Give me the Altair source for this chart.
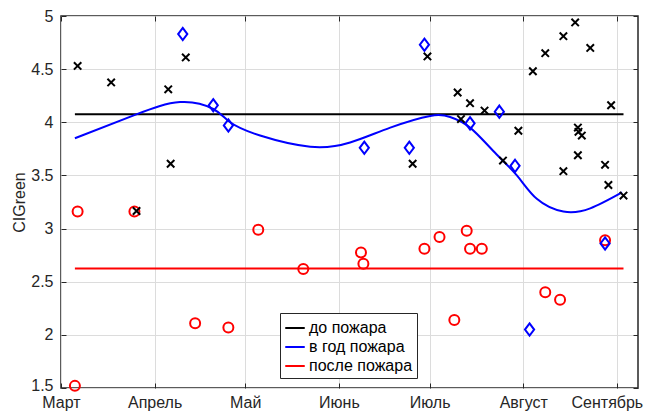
import json
import altair as alt
import pandas as pd

# ---- axis labels ----
month_names = ["Март", "Апрель", "Май", "Июнь", "Июль", "Август", "Сентябрь"]
month_days = [0, 31, 61, 92, 122, 153, 184]   # days since 1 March
y_ticks = [1.5, 2, 2.5, 3, 3.5, 4, 4.5, 5]

# ---- series names / colours ----
series_names = ["до пожара", "в год пожара", "после пожара"]
series_colors = ["#000000", "#0000ff", "#ff0000"]

# ---- before the fire (black crosses) ----
before_day = [5.5, 16.6, 35.5, 41.3, 36.3, 25.0, 121.3, 131.3, 135.4, 140.2, 132.4, 116.4,
              146.3, 151.4, 156.2, 160.3, 166.3, 170.2, 175.2, 171.1, 171.3, 172.4, 171.1,
              166.3, 180.1, 181.2, 186.2, 182.1]
before_val = [4.53, 4.375, 4.31, 4.61, 3.61, 3.165, 4.62, 4.28, 4.18, 4.11, 4.03, 3.61,
              3.64, 3.92, 4.48, 4.65, 4.81, 4.94, 4.70, 3.95, 3.91, 3.875, 3.69,
              3.54, 3.60, 3.41, 3.31, 4.16]

# ---- the fire year (blue diamonds) ----
during_day = [40.3, 50.4, 55.4, 120.3, 100.4, 115.3, 135.4, 145.1, 150.3, 155.1, 180.1]
during_val = [4.83, 4.16, 3.97, 4.73, 3.76, 3.76, 3.99, 4.10, 3.59, 2.05, 2.86]

# ---- after the fire (red circles) ----
after_day = [5.5, 24.3, 4.6, 44.4, 55.4, 65.3, 80.2, 99.3, 100.1, 120.3, 125.3, 134.3,
             135.4, 139.3, 130.2, 160.3, 165.2, 180.1]
after_val = [3.16, 3.16, 1.52, 2.11, 2.07, 2.99, 2.62, 2.775, 2.67, 2.81, 2.92, 2.98,
             2.81, 2.81, 2.14, 2.40, 2.33, 2.89]

# ---- fitted curve for the fire year ----
curve_day = [4.6, 24.5, 39.4, 50.4, 56.0, 65.9, 82.5, 95.7, 109.0, 122.2, 128.8, 135.4,
             143.1, 150.9, 157.5, 166.3, 175.2, 185.7]
curve_val = [3.85, 4.07, 4.19, 4.125, 4.0, 3.875, 3.77, 3.81, 3.95, 4.06, 4.05, 3.95,
             3.73, 3.50, 3.28, 3.16, 3.19, 3.34]

# ---- mean levels ----
level_names = ["до пожара", "после пожара"]
level_vals = [4.075, 2.625]
level_start = [4.6, 4.6]
level_end = [186.2, 186.2]

W, H = 577, 372
FONT = "Liberation Sans"
FS = 16
DARK = "#262626"

before_df = pd.DataFrame({"day": before_day, "val": before_val})
during_df = pd.DataFrame({"day": during_day, "val": during_val})
after_df = pd.DataFrame({"day": after_day, "val": after_val})
curve_df = pd.DataFrame({"day": curve_day, "val": curve_val, "series": series_names[1]})
level_df = pd.DataFrame({"series": level_names, "val": level_vals,
                         "start": level_start, "end": level_end})

xscale = alt.Scale(domain=[0, 191], nice=False, zero=False)
yscale = alt.Scale(domain=[1.5, 5], nice=False, zero=False)

label_expr = "{}[indexof({}, datum.value)]".format(
    json.dumps(month_names, ensure_ascii=False), json.dumps(month_days))

main_x = alt.Axis(orient="bottom", values=month_days, labelExpr=label_expr, grid=True,
                  ticks=False, tickSize=0, domain=False, title=None, labelPadding=6,
                  labelFontSize=FS, labelColor=DARK, labelFlush=False, labelOverlap=False,
                  labelOffset={"condition": {"test": "datum.value == %d" % month_days[-1],
                                             "value": -10}, "value": 0},
                  gridColor="#dcdcdc", gridWidth=1)
main_y = alt.Axis(orient="left", values=y_ticks, format="~g", grid=True, ticks=False,
                  tickSize=0, domain=False, title="CIGreen", titleFontSize=FS,
                  titleFontWeight="normal", titleColor=DARK, titlePadding=3,
                  labelPadding=8, labelFontSize=FS, labelColor=DARK, labelFlush=False,
                  labelOverlap=False,
                  labelOffset={"condition": {"test": "datum.value == %s" % y_ticks[0],
                                             "value": -3}, "value": 0},
                  gridColor="#dcdcdc", gridWidth=1)

def tick_axis(orient, offset, values):
    return alt.Axis(orient=orient, offset=offset, values=values, labels=False, grid=False,
                    domain=False, ticks=True, tickSize=5, tickColor=DARK, tickWidth=1,
                    title=None)

color_enc = alt.Color("series:N",
                      scale=alt.Scale(domain=series_names, range=series_colors),
                      legend=alt.Legend(orient="none", legendX=219, legendY=297, title=None,
                                        symbolType="stroke", symbolStrokeWidth=2,
                                        symbolSize=380, labelFontSize=FS, labelOffset=3,
                                        labelColor="#000000", strokeColor=DARK,
                                        fillColor="#ffffff", padding=4, rowPadding=0))

levels = alt.Chart(level_df).mark_rule(strokeWidth=2).encode(
    x=alt.X("start:Q", scale=xscale, axis=None),
    x2="end:Q",
    y=alt.Y("val:Q", scale=yscale, axis=None),
    color=color_enc,
)

curve = alt.Chart(curve_df).mark_line(interpolate="natural", strokeWidth=2).encode(
    x=alt.X("day:Q", scale=xscale, axis=main_x),
    y=alt.Y("val:Q", scale=yscale, axis=main_y),
    color=color_enc,
)

cross = "M-1,-1L1,1M-1,1L1,-1"
diamond = "M0,-1L0.75,0L0,1L-0.75,0Z"

after_pts = alt.Chart(after_df).mark_point(shape="circle", filled=False, strokeWidth=2,
                                            size=100, color="#ff0000", opacity=1).encode(
    x=alt.X("day:Q", scale=xscale, axis=None),
    y=alt.Y("val:Q", scale=yscale, axis=None),
)

during_pts = alt.Chart(during_df).mark_point(shape=diamond, filled=False, strokeWidth=2,
                                              size=150, color="#0000ff", opacity=1).encode(
    x=alt.X("day:Q", scale=xscale, axis=tick_axis("bottom", -H, month_days)),
    y=alt.Y("val:Q", scale=yscale, axis=tick_axis("left", -W, y_ticks)),
)

before_pts = alt.Chart(before_df).mark_point(shape=cross, filled=False, strokeWidth=2,
                                              size=55, color="#000000", opacity=1).encode(
    x=alt.X("day:Q", scale=xscale, axis=tick_axis("top", -H, month_days)),
    y=alt.Y("val:Q", scale=yscale, axis=tick_axis("right", -W, y_ticks)),
)

chart = alt.layer(levels, curve, after_pts, during_pts, before_pts).resolve_axis(
    x="independent", y="independent"
).properties(
    width=W, height=H,
    autosize=alt.AutoSizeParams(type="none"),
    padding={"left": 53, "top": 8, "right": 6, "bottom": 24},
    background="#ffffff",
).configure(font=FONT).configure_view(stroke=DARK, strokeWidth=1.5)

chart.save("out.html", embed_options={"renderer": "svg", "actions": False})
